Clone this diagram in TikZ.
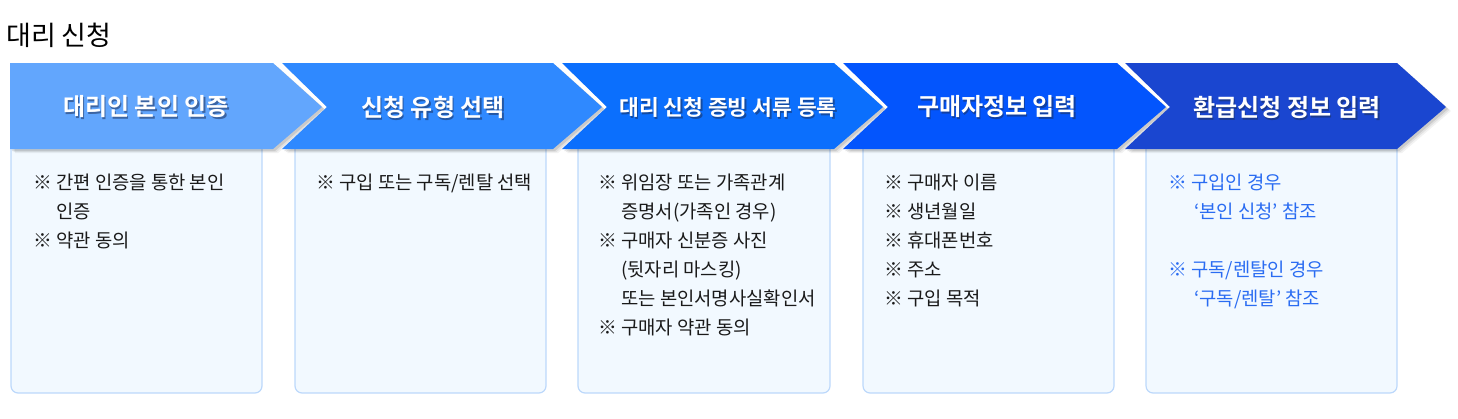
\documentclass[tikz,border=0pt]{standalone}
\usepackage{fontspec}
\setmainfont{Noto Sans CJK KR}[BoldFont={Noto Sans CJK KR Bold}]
\definecolor{cA}{HTML}{62A6FD}
\definecolor{cB}{HTML}{2F89FF}
\definecolor{cC}{HTML}{0B6FFD}
\definecolor{cD}{HTML}{0355FD}
\definecolor{cE}{HTML}{1A46D0}
\definecolor{boxfill}{HTML}{F2F9FF}
\definecolor{boxline}{HTML}{BCD8FB}
\definecolor{bodytext}{HTML}{1A1A1A}
\definecolor{bluetext}{HTML}{2A6CF2}
\definecolor{hdrshadow}{HTML}{1B2F5A}
\newcommand\chevp[2]{(#1,63) -- (#2,63) -- ++(49,44) -- (#2,149) -- (#1,149) -- ++(45,-42) -- cycle}
\newcommand\chevfirst{(10,63) -- (273,63) -- (322,107) -- (273,149) -- (10,149) -- cycle}
\tikzset{
  bodybox/.style={fill=boxfill, draw=boxline, line width=1.2pt, rounded corners=7pt},
  chevshade/.style={fill=black, draw=none},
  hdr/.style={text=white, font=\bfseries\fontsize{24}{28}\selectfont, inner sep=0pt},
  hdrsmall/.style={hdr, font=\bfseries\fontsize{21.5}{26}\selectfont},
  hdrsh/.style={text=hdrshadow, text opacity=0.55, inner sep=0pt},
  bodytxt/.style={anchor=north west, align=left, inner sep=0pt, text=bodytext,
    font=\fontsize{18.8}{29}\selectfont},
}
\begin{document}
\begin{tikzpicture}[x=1pt,y=-1pt]
\useasboundingbox (0,0) rectangle (1458,418);
\node[anchor=west, inner sep=0pt, font=\fontsize{27}{31}\selectfont] (title) at (6,35) {대리 신청};
% body boxes
\draw[bodybox] (11,140) rectangle (262,393);
\draw[bodybox] (295,140) rectangle (546,393);
\draw[bodybox] (578,140) rectangle (830,393);
\draw[bodybox] (863,140) rectangle (1114,393);
\draw[bodybox] (1146,140) rectangle (1397,393);
% chevron shadows
\foreach \dx/\dy/\op in {5/4/0.05, 3.5/3/0.07, 2/2/0.10}{
  \fill[chevshade, opacity=\op, shift={(\dx,\dy)}] \chevfirst;
  \fill[chevshade, opacity=\op, shift={(\dx,\dy)}] \chevp{282}{553};
  \fill[chevshade, opacity=\op, shift={(\dx,\dy)}] \chevp{562}{834};
  \fill[chevshade, opacity=\op, shift={(\dx,\dy)}] \chevp{843}{1117};
  \fill[chevshade, opacity=\op, shift={(\dx,\dy)}] \chevp{1125}{1397};
}
% chevrons
\fill[cA] \chevfirst;
\fill[cB] \chevp{282}{553};
\fill[cC] \chevp{562}{834};
\fill[cD] \chevp{843}{1117};
\fill[cE] \chevp{1125}{1397};
% header texts
\foreach \n/\x/\t/\st in {a/146/대리인 본인 인증/hdr, b/433/신청 유형 선택/hdr, c/728/대리 신청 증빙 서류 등록/hdrsmall, d/997/구매자정보 입력/hdr, e/1287/환급신청 정보 입력/hdr}{
  \node[\st, hdrsh] (sh\n) at (\x+1.5,109) {\t};
  \node[\st] (h\n) at (\x,107) {\t};
}
% body texts
\node[bodytxt] (t1) at (33,173.5) {※ 간편 인증을 통한 본인\\\phantom{※ }인증\\※ 약관 동의};
\node[bodytxt] (t2) at (316,173.5) {※ 구입 또는 구독/렌탈 선택};
\node[bodytxt] (t3) at (598,173.5) {※ 위임장 또는 가족관계\\\phantom{※ }증명서(가족인 경우)\\※ 구매자 신분증 사진\\\phantom{※ }(뒷자리 마스킹)\\\phantom{※ }또는 본인서명사실확인서\\※ 구매자 약관 동의};
\node[bodytxt] (t4) at (884,173.5) {※ 구매자 이름\\※ 생년월일\\※ 휴대폰번호\\※ 주소\\※ 구입 목적};
\node[bodytxt, text=bluetext] (t5) at (1168,173.5) {※ 구입인 경우\\\phantom{※ }\hspace{3pt}‘본인 신청’ 참조\\[29pt]※ 구독/렌탈인 경우\\\phantom{※ }\hspace{3pt}‘구독/렌탈’ 참조};
\end{tikzpicture}
\end{document}
